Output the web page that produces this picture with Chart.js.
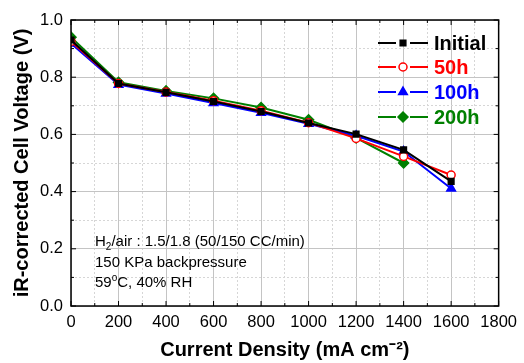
<!DOCTYPE html>
<html lang="en">
<head>
  <meta charset="UTF-8">
  <title>iR-corrected Cell Voltage</title>
  <script src="https://cdn.jsdelivr.net/npm/chart.js"></script>
  <style>
    html, body { margin: 0; padding: 0; background: #fff; }
    #wrap { width: 524px; height: 363px; }
  </style>
</head>
<body>
  <div id="wrap"><canvas id="polChart" width="524" height="363"></canvas></div>

  <script>
    // current density (mA cm-2)
    const currentDensity = [0, 200, 400, 600, 800, 1000, 1200, 1400, 1600];
    // voltages (V)
    const initialV = [0.930, 0.778, 0.747, 0.715, 0.680, 0.640, 0.601, 0.546, 0.436];
    const h50V     = [0.925, 0.778, 0.748, 0.718, 0.683, 0.641, 0.586, 0.523, 0.458];
    const h100V    = [0.918, 0.774, 0.743, 0.710, 0.676, 0.637, 0.595, 0.540, 0.411];
    const h200V    = [0.940, 0.782, 0.752, 0.726, 0.694, 0.651, 0.588, 0.500, null];
    const seriesNames = ['Initial', '50h', '100h', '200h'];
    const xTicks = [0, 200, 400, 600, 800, 1000, 1200, 1400, 1600, 1800];
    const yTicks = [0.0, 0.2, 0.4, 0.6, 0.8, 1.0];
    const noteLines = ['H₂/air : 1.5/1.8 (50/150 CC/min)', '150 KPa backpressure', '59°C, 40% RH'];

    function toPoints(vals) {
      const pts = [];
      vals.forEach((v, i) => { if (v !== null) pts.push({ x: currentDensity[i], y: v }); });
      return pts;
    }

    const styles = [
      { color: '#000000', point: 'rect', fill: '#000000', radius: 4 },
      { color: '#ff0000', point: 'circle', fill: '#ffffff', radius: 4 },
      { color: '#0000ff', point: 'triangle', fill: '#0000ff', radius: 5 },
      { color: '#008000', point: 'rectRot', fill: '#008000', radius: 5 }
    ];
    const allValues = [initialV, h50V, h100V, h200V];

    const datasets = allValues.map((vals, i) => ({
      label: seriesNames[i],
      data: toPoints(vals),
      showLine: true,
      borderColor: styles[i].color,
      borderWidth: 2,
      pointStyle: styles[i].point,
      pointRadius: styles[i].radius,
      pointBackgroundColor: styles[i].fill,
      pointBorderColor: styles[i].color,
      pointBorderWidth: 1.5,
      tension: 0
    }));

    const isMajorX = v => xTicks.includes(v);
    const isMajorY = v => yTicks.some(t => Math.abs(t - v) < 1e-6);
    const FONT = '"Liberation Sans", Arial, sans-serif';

    // frame, inner ticks, note text and legend
    const decorPlugin = {
      id: 'decor',
      afterDatasetsDraw(chart) {
        const ctx = chart.ctx;
        const a = chart.chartArea;
        const xs = chart.scales.x, ys = chart.scales.y;
        ctx.save();
        ctx.strokeStyle = '#000';
        ctx.lineWidth = 1.5;
        ctx.strokeRect(a.left, a.top, a.right - a.left, a.bottom - a.top);

        ctx.lineWidth = 1;
        for (let v = 0; v <= 1800; v += 100) {
          const px = xs.getPixelForValue(v);
          const len = isMajorX(v) ? 5 : 3;
          ctx.beginPath();
          ctx.moveTo(px, a.bottom); ctx.lineTo(px, a.bottom - len);
          ctx.moveTo(px, a.top); ctx.lineTo(px, a.top + len);
          ctx.stroke();
        }
        for (let k = 0; k <= 10; k++) {
          const py = ys.getPixelForValue(k / 10);
          const len = k % 2 === 0 ? 5 : 3;
          ctx.beginPath();
          ctx.moveTo(a.left, py); ctx.lineTo(a.left + len, py);
          ctx.moveTo(a.right, py); ctx.lineTo(a.right - len, py);
          ctx.stroke();
        }

        // conditions note
        ctx.fillStyle = '#000';
        ctx.textBaseline = 'middle';
        ctx.textAlign = 'left';
        const nx = 95;
        const ny = [242, 263, 283];
        ctx.font = '15px ' + FONT;
        ctx.fillText('H', nx, ny[0]);
        let w = ctx.measureText('H').width;
        ctx.font = '10px ' + FONT;
        ctx.fillText('2', nx + w, ny[0] + 5);
        const w2 = ctx.measureText('2').width;
        ctx.font = '15px ' + FONT;
        ctx.fillText(noteLines[0].slice(2), nx + w + w2, ny[0]);
        ctx.fillText(noteLines[1], nx, ny[1]);
        ctx.fillText('59', nx, ny[2]);
        w = ctx.measureText('59').width;
        ctx.font = '10px ' + FONT;
        ctx.fillText('o', nx + w, ny[2] - 5);
        const wo = ctx.measureText('o').width;
        ctx.font = '15px ' + FONT;
        ctx.fillText(noteLines[2].slice(3), nx + w + wo, ny[2]);

        // legend: line - marker - line, then bold coloured label
        const rowY = [43, 67, 92, 117];
        chart.data.datasets.forEach((ds, i) => {
          const y = rowY[i];
          ctx.strokeStyle = ds.borderColor;
          ctx.lineWidth = 2;
          ctx.beginPath();
          ctx.moveTo(378, y); ctx.lineTo(396, y);
          ctx.moveTo(410, y); ctx.lineTo(428, y);
          ctx.stroke();
          ctx.fillStyle = ds.pointBackgroundColor;
          ctx.strokeStyle = ds.pointBorderColor;
          ctx.lineWidth = ds.pointBorderWidth;
          Chart.helpers.drawPoint(ctx, {
            pointStyle: ds.pointStyle,
            radius: ds.pointRadius,
            borderWidth: ds.pointBorderWidth,
            rotation: 0
          }, 403, y);
          ctx.fillStyle = ds.borderColor;
          ctx.font = 'bold 20px ' + FONT;
          ctx.fillText(ds.label, 434, y + 1);
        });
        ctx.restore();
      }
    };

    const ctx = document.getElementById('polChart').getContext('2d');
    new Chart(ctx, {
      type: 'scatter',
      data: { datasets: datasets },
      plugins: [decorPlugin],
      options: {
        responsive: false,
        animation: false,
        layout: { padding: { top: 20, right: 20, left: 0, bottom: 0 } },
        plugins: {
          legend: { display: false },
          tooltip: { enabled: false }
        },
        scales: {
          x: {
            type: 'linear',
            min: 0,
            max: 1800,
            afterFit(scale) { scale.height = 57; },
            grid: {
              drawTicks: false,
              color: c => isMajorX(c.tick.value) ? '#c4c4c4' : '#d6d6d6',
              lineWidth: 1
            },
            border: { display: false, dash: c => (c.tick && !isMajorX(c.tick.value)) ? [2, 2] : [] },
            ticks: {
              stepSize: 100,
              padding: 7,
              color: '#000',
              font: { family: FONT, size: 16.5 },
              autoSkip: false,
              maxRotation: 0,
              callback: v => isMajorX(v) ? String(v) : ''
            },
            title: {
              display: true,
              text: 'Current Density (mA cm⁻²)',
              color: '#000',
              font: { family: FONT, size: 20, weight: 'bold' },
              padding: { top: 0, bottom: 1 }
            }
          },
          y: {
            min: 0,
            max: 1.0,
            afterFit(scale) { scale.width = 71; },
            grid: {
              drawTicks: false,
              color: c => isMajorY(c.tick.value) ? '#c4c4c4' : '#d6d6d6',
              lineWidth: 1
            },
            border: { display: false, dash: c => (c.tick && !isMajorY(c.tick.value)) ? [2, 2] : [] },
            ticks: {
              stepSize: 0.1,
              padding: 8,
              color: '#000',
              font: { family: FONT, size: 16.5 },
              autoSkip: false,
              callback: v => isMajorY(v) ? v.toFixed(1) : ''
            },
            title: {
              display: true,
              text: 'iR-corrected Cell Voltage (V)',
              color: '#000',
              font: { family: FONT, size: 20, weight: 'bold' },
              padding: { top: 10, bottom: 0 }
            }
          }
        }
      }
    });
  </script>
</body>
</html>
